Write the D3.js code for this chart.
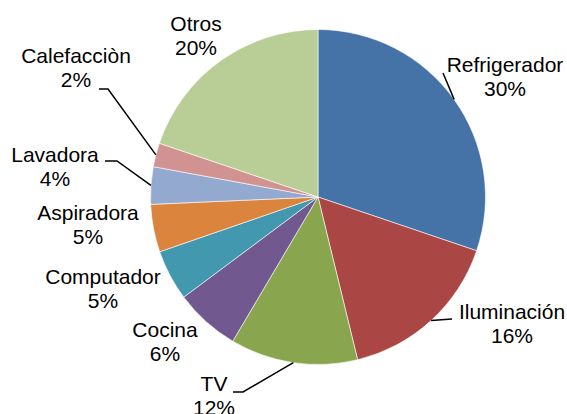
<!DOCTYPE html>
<html>
<head>
<meta charset="utf-8">
<script src="https://cdn.jsdelivr.net/npm/d3@7"></script>
<style>
  body { margin: 0; background: #fff; }
  text { font-family: "Liberation Sans", Arial, sans-serif; fill: #000; }
</style>
</head>
<body>
<svg id="chart" width="567" height="414"></svg>
<script>
// data (percent of total consumption)
const categories = ["Refrigerador", "Iluminación", "TV", "Cocina", "Computador",
                    "Aspiradora", "Lavadora", "Calefacciòn", "Otros"];
const values = [30.2, 16.0, 12.3, 6.3, 4.9, 4.6, 3.6, 2.3, 19.8];
const colors = ["#4572A7", "#AA4643", "#89A54E", "#71588F", "#4198AF",
                "#DB843D", "#93A9CF", "#D19392", "#B9CD96"];

const cx = 318, cy = 197, radius = 167.5;
const fontSize = 21, lineGap = 23.5;

// label anchors: centre x / first baseline; leader = [elbow, end] or null
const labelLayout = {
  "Refrigerador": { x: 505, y: 72, leader: [[443, 73]] },
  "Iluminación":  { x: 512, y: 319, leader: [[452, 319]] },
  "TV":           { x: 214, y: 391, leader: [[243, 392], [233, 392]] },
  "Cocina":       { x: 165, y: 337, leader: null },
  "Computador":   { x: 103, y: 284, leader: null },
  "Aspiradora":   { x: 88,  y: 220, leader: null },
  "Lavadora":     { x: 55,  y: 162, leader: [[117, 161], [105, 161]] },
  "Calefacciòn":  { x: 76,  y: 63,  leader: [[108, 89], [99, 89]] },
  "Otros":        { x: 196, y: 31,  leader: null }
};

const data = categories.map((c, i) => ({ name: c, value: values[i], color: colors[i] }));
const total = d3.sum(values);

const svg = d3.select("#chart");
const g = svg.append("g").attr("transform", `translate(${cx},${cy})`);

const pie = d3.pie().value(d => d.value).sort(null);
const arc = d3.arc().innerRadius(0).outerRadius(radius);
const arcs = pie(data);

g.selectAll("path.slice")
  .data(arcs)
  .enter()
  .append("path")
  .attr("class", "slice")
  .attr("d", arc)
  .attr("fill", d => d.data.color)
  .attr("stroke", "#fff")
  .attr("stroke-width", 0.6);

// leader lines from the rim at slice mid angle
const line = d3.line();
arcs.forEach(d => {
  const lay = labelLayout[d.data.name];
  if (!lay.leader) return;
  const mid = (d.startAngle + d.endAngle) / 2;
  const rim = [cx + radius * Math.sin(mid), cy - radius * Math.cos(mid)];
  svg.append("path")
    .attr("d", line([rim, ...lay.leader]))
    .attr("fill", "none")
    .attr("stroke", "#000")
    .attr("stroke-width", 1.5);
});

// labels
const fmt = v => Math.round(v / total * 100) + "%";
arcs.forEach(d => {
  const lay = labelLayout[d.data.name];
  const t = svg.append("text")
    .attr("text-anchor", "middle")
    .attr("font-size", fontSize);
  t.append("tspan").attr("x", lay.x).attr("y", lay.y).text(d.data.name);
  t.append("tspan").attr("x", lay.x).attr("y", lay.y + lineGap).text(fmt(d.data.value));
});
</script>
</body>
</html>
